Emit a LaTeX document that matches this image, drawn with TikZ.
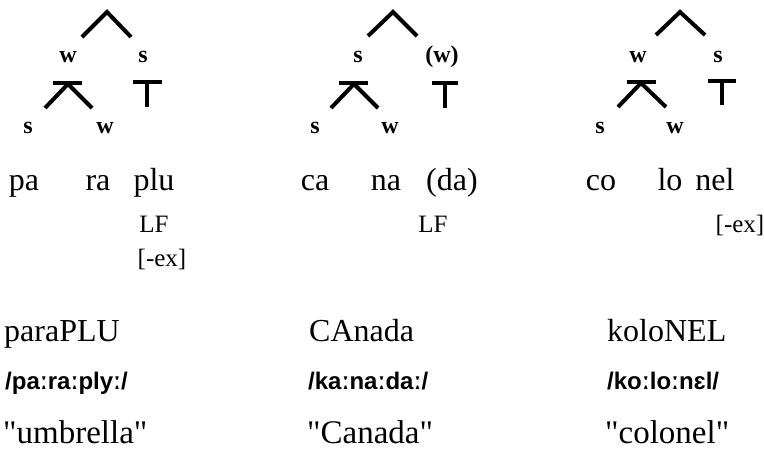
\documentclass[tikz,border=0pt]{standalone}
\usepackage{fontspec}
\setmainfont{Liberation Serif}[Ligatures=TeXOff]
\newfontfamily\ipafont{Liberation Sans}
\begin{document}
\begin{tikzpicture}[x=1pt,y=-1pt,
  branch/.style={line width=4pt, line cap=butt, line join=miter},
  lbl/.style={font=\fontsize{24}{24}\selectfont\bfseries, inner sep=0, anchor=base},
  syl/.style={font=\fontsize{32}{32}\selectfont, inner sep=0, anchor=base},
  feat/.style={font=\fontsize{25}{25}\selectfont, inner sep=0, anchor=base},
  word/.style={font=\fontsize{32}{32}\selectfont, inner sep=0, anchor=base west},
  gloss/.style={font=\fontsize{33}{33}\selectfont, inner sep=0, anchor=base west},
  ipa/.style={font=\fontsize{24}{24}\selectfont\ipafont\bfseries, inner sep=0, anchor=base west}]
\useasboundingbox (0,0) rectangle (764,464);

% ---------- paraPLU ----------
\coordinate (a-top) at (107,12);
\coordinate (a-l) at (82,37);
\coordinate (a-r) at (131,37);
\draw[branch] (a-l) -- (a-top) -- (a-r);
\node[lbl] (a-w) at (68,62) {w};
\node[lbl] (a-s) at (143,62) {s};
\coordinate (a-fl) at (53,83);
\coordinate (a-fr) at (82,83);
\coordinate (a-fa) at (68,84);
\coordinate (a-fs) at (45,108);
\coordinate (a-fw) at (92,108);
\draw[branch] (a-fl) -- (a-fr);
\draw[branch] (a-fs) -- (a-fa) -- (a-fw);
\coordinate (a-tl) at (133,82);
\coordinate (a-tr) at (162,82);
\coordinate (a-tm) at (147,82);
\coordinate (a-tb) at (147,107);
\draw[branch] (a-tl) -- (a-tr);
\draw[branch] (a-tm) -- (a-tb);
\node[lbl] (a-s2) at (28,133) {s};
\node[lbl] (a-w2) at (105,133) {w};
\node[syl] (a-1) at (24,190) {pa};
\node[syl] (a-2) at (98,190) {ra};
\node[syl] (a-3) at (154,190) {plu};
\node[feat] (a-lf) at (154,232) {LF};
\node[feat] (a-ex) at (162,266) {[-ex]};
\node[word] (a-word) at (4,341) {paraPLU};
\node[ipa] (a-ipa) at (5,389) {/paːraːplyː/};
\node[gloss] (a-gloss) at (3,443) {"umbrella"};

% ---------- CAnada ----------
\coordinate (b-top) at (393,12);
\coordinate (b-l) at (368,36);
\coordinate (b-r) at (417,36);
\draw[branch] (b-l) -- (b-top) -- (b-r);
\node[lbl] (b-s) at (358,62) {s};
\node[lbl] (b-w) at (442,62) {(w)};
\coordinate (b-fl) at (339,83);
\coordinate (b-fr) at (368,83);
\coordinate (b-fa) at (354,84);
\coordinate (b-fs) at (331,108);
\coordinate (b-fw) at (378,108);
\draw[branch] (b-fl) -- (b-fr);
\draw[branch] (b-fs) -- (b-fa) -- (b-fw);
\coordinate (b-tl) at (432,83);
\coordinate (b-tr) at (458,83);
\coordinate (b-tm) at (445,83);
\coordinate (b-tb) at (445,108);
\draw[branch] (b-tl) -- (b-tr);
\draw[branch] (b-tm) -- (b-tb);
\node[lbl] (b-s2) at (315,133) {s};
\node[lbl] (b-w2) at (390,133) {w};
\node[syl] (b-1) at (315,190) {ca};
\node[syl] (b-2) at (386,190) {na};
\node[syl] (b-3) at (452,190) {(da)};
\node[feat] (b-lf) at (433,232) {LF};
\node[word] (b-word) at (309,341) {CAnada};
\node[ipa] (b-ipa) at (308,389) {/kaːnaːdaː/};
\node[gloss] (b-gloss) at (307,443) {"Canada"};

% ---------- koloNEL ----------
\coordinate (c-top) at (680,12);
\coordinate (c-l) at (656,35);
\coordinate (c-r) at (705,35);
\draw[branch] (c-l) -- (c-top) -- (c-r);
\node[lbl] (c-w) at (638,62) {w};
\node[lbl] (c-s) at (718,62) {s};
\coordinate (c-fl) at (627,82);
\coordinate (c-fr) at (656,82);
\coordinate (c-fa) at (641,83);
\coordinate (c-fs) at (618,107);
\coordinate (c-fw) at (666,107);
\draw[branch] (c-fl) -- (c-fr);
\draw[branch] (c-fs) -- (c-fa) -- (c-fw);
\coordinate (c-tl) at (708,81);
\coordinate (c-tr) at (736,81);
\coordinate (c-tm) at (722,81);
\coordinate (c-tb) at (722,105);
\draw[branch] (c-tl) -- (c-tr);
\draw[branch] (c-tm) -- (c-tb);
\node[lbl] (c-s2) at (600,133) {s};
\node[lbl] (c-w2) at (675,133) {w};
\node[syl] (c-1) at (601,190) {co};
\node[syl] (c-2) at (670,190) {lo};
\node[syl] (c-3) at (715,190) {nel};
\node[feat] (c-ex) at (740,232) {[-ex]};
\node[word] (c-word) at (607,341) {koloNEL};
\node[ipa] (c-ipa) at (607,389) {/koːloːnɛl/};
\node[gloss] (c-gloss) at (605,443) {"colonel"};
\end{tikzpicture}
\end{document}
